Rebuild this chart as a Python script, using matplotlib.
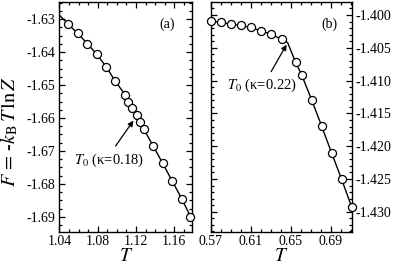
import matplotlib
matplotlib.use('Agg')
import matplotlib.pyplot as plt
from matplotlib.ticker import MultipleLocator, FormatStrFormatter

plt.rcParams['font.family'] = ['Liberation Serif', 'DejaVu Serif']
plt.rcParams['mathtext.fontset'] = 'stix'
plt.rcParams['axes.unicode_minus'] = False

# panel (a), kappa = 0.18
Ta = [1.049, 1.059, 1.069, 1.079, 1.089, 1.098, 1.109, 1.112, 1.116, 1.121,
      1.124, 1.128, 1.138, 1.148, 1.158, 1.168, 1.177]
Fa = [-1.6315, -1.6343, -1.6374, -1.6407, -1.6445, -1.6487, -1.6531, -1.6550,
      -1.6571, -1.6592, -1.6612, -1.6633, -1.6685, -1.6738, -1.6792, -1.6846,
      -1.6899]
# line starts at the left edge
Ta_line = [1.04] + Ta
Fa_line = [-1.6288] + Fa

# panel (b), kappa = 0.22
Tb = [0.570, 0.580, 0.590, 0.600, 0.610, 0.620, 0.630, 0.641,
      0.655, 0.661, 0.671, 0.681, 0.691, 0.701, 0.711]
Fb = [-1.4009, -1.4011, -1.4014, -1.4016, -1.4019, -1.4024, -1.4029, -1.4037,
      -1.4072, -1.4091, -1.4129, -1.4169, -1.4210, -1.4250, -1.4292]
# kink at T0
Tb_line = Tb[:8] + [0.647] + Tb[8:]
Fb_line = Fb[:8] + [-1.4042] + Fb[8:]

fig = plt.figure(figsize=(3.95, 2.65), dpi=100)
axa = fig.add_axes([0.1506, 0.1245, 0.3365, 0.868])
axb = fig.add_axes([0.5334, 0.1245, 0.357, 0.868])

mk = dict(marker='o', ms=5.8, mfc='white', mec='black', mew=0.9, ls='none',
          clip_on=False, zorder=3)

axa.plot(Ta_line, Fa_line, color='black', lw=1.0)
axa.plot(Ta, Fa, **mk)
axb.plot(Tb_line, Fb_line, color='black', lw=1.0)
axb.plot(Tb, Fb, **mk)

axa.set_xlim(1.04, 1.179)
axa.set_ylim(-1.6946, -1.6248)
axb.set_xlim(0.57, 0.7112)
axb.set_ylim(-1.43308, -1.39802)

axa.xaxis.set_major_locator(MultipleLocator(0.04))
axa.xaxis.set_minor_locator(MultipleLocator(0.01))
axa.yaxis.set_major_locator(MultipleLocator(0.01))
axa.yaxis.set_minor_locator(MultipleLocator(0.0025))
axa.xaxis.set_major_formatter(FormatStrFormatter('%.2f'))
axa.yaxis.set_major_formatter(FormatStrFormatter('%.2f'))

axb.xaxis.set_major_locator(MultipleLocator(0.04, offset=0.01))
axb.xaxis.set_minor_locator(MultipleLocator(0.01))
axb.yaxis.set_major_locator(MultipleLocator(0.005))
axb.yaxis.set_minor_locator(MultipleLocator(0.001))
axb.xaxis.set_major_formatter(FormatStrFormatter('%.2f'))
axb.yaxis.set_major_formatter(FormatStrFormatter('%.3f'))
axb.yaxis.tick_right()

for ax in (axa, axb):
    ax.tick_params(which='both', direction='in', top=True, bottom=True,
                   left=True, right=True, labelsize=10, width=0.9, pad=3)
    ax.tick_params(axis='x', pad=2)
    ax.tick_params(which='major', length=4.5)
    ax.tick_params(which='minor', length=2.5)
    for s in ax.spines.values():
        s.set_linewidth(1.0)
    ax.set_xlabel(r'$T$', fontsize=14, labelpad=0)
axb.tick_params(labelleft=False, labelright=True)

fig.text(0.024, 0.505, r'$F\,=\,$-$k_{\rm B}\,T\,{\rm ln}\,Z$', fontsize=14.5,
         rotation=90, ha='center', va='center')

arrow = dict(arrowstyle='-|>', color='black', lw=0.9, mutation_scale=8,
             shrinkA=0, shrinkB=0)
axa.annotate('', xy=(1.1173, -1.6608), xytext=(1.0987, -1.6685), arrowprops=arrow)
axa.text(1.0557, -1.674, r'$T_0$ (κ=0.18)', fontsize=10.5, va='baseline')
axb.annotate('', xy=(0.646, -1.40451), xytext=(0.6305, -1.40864), arrowprops=arrow)
axb.text(0.5867, -1.41133, r'$T_0$ (κ=0.22)', fontsize=10.5, va='baseline')

axa.text(0.812, 0.904, '(a)', transform=axa.transAxes, fontsize=10,
         ha='center', va='center')
axb.text(0.839, 0.904, '(b)', transform=axb.transAxes, fontsize=10,
         ha='center', va='center')

fig.savefig('out.png', dpi=100)
